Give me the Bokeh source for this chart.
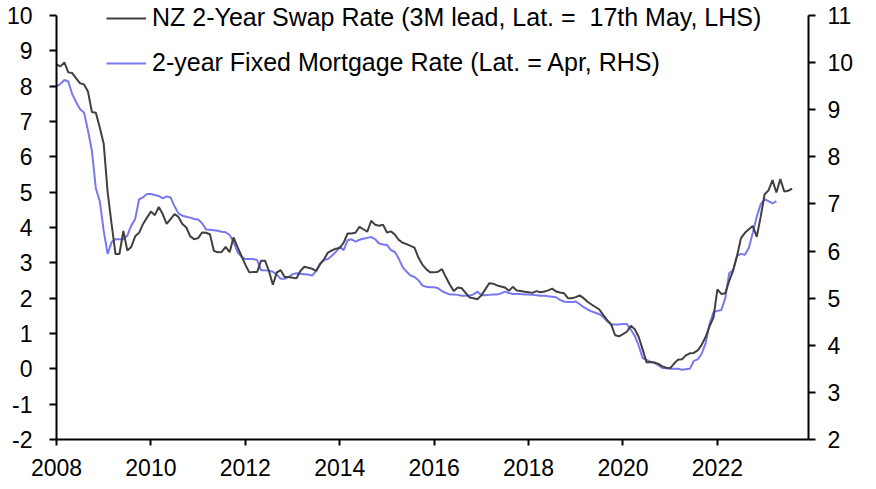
from bokeh.plotting import figure
from bokeh.models import (Range1d, LinearAxis, FixedTicker, Legend, LegendItem,
                          ColumnDataSource, CustomJSTickFormatter)
from bokeh.embed import file_html
from bokeh.resources import INLINE

# NZ 2-year swap rate (%), monthly, actual months from Oct 2007 (plotted with a 3-month lead)
swap_start_year = 2007
swap_start_month = 10
swap_lead_months = 3
swap = [
    8.62, 8.56, 8.67, 8.39, 8.37, 8.22, 8.08, 8.05, 7.85, 7.27, 7.25, 6.83,
    6.37, 5.00, 4.10, 3.25, 3.25, 3.90, 3.35, 3.45, 3.75, 3.85, 4.10, 4.28,
    4.45, 4.35, 4.58, 4.38, 4.10, 4.24, 4.38, 4.30, 4.10, 4.00, 3.75, 3.67,
    3.70, 3.86, 3.85, 3.81, 3.34, 3.30, 3.31, 3.45, 3.30, 3.72, 3.45, 3.20,
    2.95, 2.73, 2.74, 2.74, 3.06, 3.06, 2.77, 2.38, 2.73, 2.79, 2.60, 2.60,
    2.58, 2.56, 2.77, 2.89, 2.86, 2.83, 2.77, 2.96, 3.10, 3.29, 3.35, 3.40,
    3.42, 3.57, 3.83, 3.83, 3.85, 4.02, 3.95, 3.88, 4.19, 4.08, 4.05, 4.08,
    3.86, 3.89, 3.80, 3.65, 3.57, 3.53, 3.48, 3.43, 3.15, 2.95, 2.82, 2.73,
    2.73, 2.75, 2.82, 2.59, 2.38, 2.20, 2.30, 2.28, 2.15, 2.02, 2.00, 1.97,
    2.08, 2.25, 2.42, 2.41, 2.36, 2.33, 2.30, 2.21, 2.32, 2.22, 2.20, 2.18,
    2.17, 2.15, 2.20, 2.17, 2.19, 2.22, 2.27, 2.19, 2.16, 2.14, 2.00, 2.00,
    2.03, 2.08, 2.00, 1.90, 1.82, 1.75, 1.68, 1.52, 1.38, 1.26, 0.95, 0.92,
    0.98, 1.05, 1.22, 1.12, 0.90, 0.55, 0.18, 0.19, 0.18, 0.14, 0.07, 0.03,
    0.02, 0.15, 0.26, 0.27, 0.38, 0.44, 0.45, 0.52, 0.68, 0.90, 1.20, 1.45,
    2.25, 2.12, 2.14, 2.49, 2.78, 3.20, 3.70, 3.85, 3.95, 4.04, 3.74, 4.30,
    4.94, 5.05, 5.34, 4.99, 5.37, 5.02, 5.04, 5.10,
]

# 2-year fixed mortgage rate (%), monthly from Jan 2008 (right axis)
mort_start_year = 2008
mort_start_month = 1
mortgage = [
    9.49, 9.55, 9.63, 9.60, 9.33, 9.16, 9.01, 8.94, 8.56, 8.13, 7.33, 7.06,
    6.43, 5.94, 6.19, 6.25, 6.25, 6.25, 6.33, 6.54, 6.68, 7.10, 7.14, 7.21,
    7.21, 7.19, 7.17, 7.12, 7.16, 7.14, 6.95, 6.80, 6.75, 6.73, 6.71, 6.68,
    6.67, 6.59, 6.46, 6.45, 6.44, 6.43, 6.41, 6.40, 6.34, 6.20, 5.98, 5.88,
    5.83, 5.83, 5.83, 5.81, 5.59, 5.59, 5.58, 5.56, 5.50, 5.41, 5.41, 5.45,
    5.51, 5.53, 5.52, 5.51, 5.50, 5.48, 5.58, 5.73, 5.81, 5.83, 5.90, 5.98,
    6.09, 6.02, 6.23, 6.25, 6.20, 6.24, 6.26, 6.28, 6.30, 6.25, 6.16, 6.14,
    6.13, 6.02, 5.98, 5.84, 5.66, 5.56, 5.48, 5.45, 5.38, 5.27, 5.24, 5.23,
    5.23, 5.21, 5.15, 5.11, 5.08, 5.08, 5.07, 5.05, 5.05, 5.05, 5.08, 5.14,
    5.06, 5.06, 5.07, 5.08, 5.08, 5.10, 5.14, 5.11, 5.09, 5.09, 5.09, 5.08,
    5.08, 5.07, 5.06, 5.05, 5.05, 5.04, 5.03, 5.02, 4.96, 4.93, 4.92, 4.92,
    4.93, 4.87, 4.81, 4.76, 4.72, 4.69, 4.66, 4.60, 4.51, 4.44, 4.44, 4.44,
    4.45, 4.45, 4.33, 4.20, 3.99, 3.73, 3.69, 3.65, 3.62, 3.58, 3.52, 3.51,
    3.50, 3.50, 3.50, 3.48, 3.49, 3.50, 3.67, 3.70, 3.82, 4.04, 4.45, 4.70,
    4.73, 4.75, 5.00, 5.53, 5.60, 5.90, 5.94, 5.92, 6.07, 6.39, 6.73, 6.99,
    7.10, 7.06, 7.01, 7.06,
]

x_ticks = [2008, 2010, 2012, 2014, 2016, 2018, 2020, 2022]
left_ticks = list(range(-2, 11))
right_ticks = list(range(2, 12))

swap_label = "NZ 2-Year Swap Rate (3M lead, Lat. =  17th May, LHS)"
mort_label = "2-year Fixed Mortgage Rate (Lat. = Apr, RHS)"

FONT = "Liberation Sans"
FS_TICK = "23px"
FS_LEG = "25px"

swap_x = [swap_start_year + (swap_start_month - 1 + swap_lead_months + i) / 12 for i in range(len(swap))]
mort_x = [mort_start_year + (mort_start_month - 1 + i) / 12 for i in range(len(mortgage))]

W, H = 868, 481
TOP_PAD = 15 / 424  # headroom above the top tick, as a fraction of the axis span
p = figure(width=W, height=H, output_backend="svg", toolbar_location=None,
           x_range=Range1d(2008, 2023.93),
           y_range=Range1d(-2, 10 + 12 * TOP_PAD),
           min_border_left=56, min_border_right=W - 808, min_border_top=0,
           min_border_bottom=H - 439)
p.extra_y_ranges = {"right": Range1d(2, 11 + 9 * TOP_PAD)}
p.outline_line_color = None
p.xgrid.visible = False
p.ygrid.visible = False
p.background_fill_color = "white"
p.border_fill_color = "white"

s1 = ColumnDataSource(dict(x=swap_x, y=swap))
s2 = ColumnDataSource(dict(x=mort_x, y=mortgage))
r_mort = p.line("x", "y", source=s2, line_color="#7878F0", line_width=2, y_range_name="right")
r_swap = p.line("x", "y", source=s1, line_color="#404040", line_width=2)

int_fmt = "return tick.toFixed(0);"

def style_axis(ax):
    ax.axis_line_color = "black"
    ax.axis_line_width = 2
    ax.major_tick_line_color = "black"
    ax.major_tick_line_width = 2
    ax.major_tick_out = 7
    ax.major_tick_in = 0
    ax.minor_tick_line_color = None
    ax.major_label_text_font = FONT
    ax.major_label_text_font_size = FS_TICK
    ax.major_label_text_color = "black"
    ax.formatter = CustomJSTickFormatter(code=int_fmt)

p.xaxis.ticker = FixedTicker(ticks=x_ticks)
p.yaxis.ticker = FixedTicker(ticks=left_ticks)
p.yaxis.bounds = (-2, 10)
style_axis(p.xaxis[0])
style_axis(p.yaxis[0])
p.xaxis.major_tick_out = 6
p.xaxis.major_label_standoff = 13
p.yaxis.major_label_standoff = 17

ry = LinearAxis(y_range_name="right", ticker=FixedTicker(ticks=right_ticks), bounds=(2, 11))
style_axis(ry)
ry.major_label_standoff = 12
p.add_layout(ry, "right")

legend = Legend(items=[LegendItem(label=swap_label, renderers=[r_swap]),
                       LegendItem(label=mort_label, renderers=[r_mort])],
                location=(50, 362), padding=0, margin=0, spacing=16,
                glyph_width=40, glyph_height=20, label_standoff=6,
                label_text_font=FONT, label_text_font_size=FS_LEG,
                label_text_color="black",
                border_line_alpha=0, background_fill_alpha=0)
p.add_layout(legend, "center")

open("out.html", "w").write(file_html(p, INLINE))
